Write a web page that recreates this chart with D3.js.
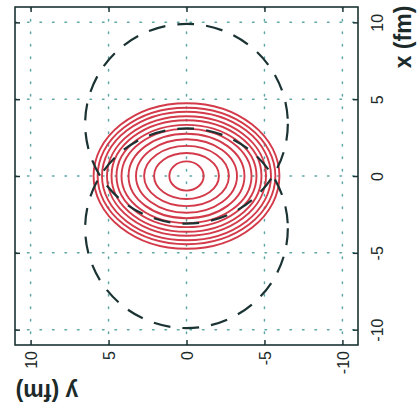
<!DOCTYPE html>
<html>
<head>
<meta charset="utf-8">
<script src="https://cdn.jsdelivr.net/npm/d3@7"></script>
<style>
  body { margin: 0; background: #fff; }
  text { font-family: "Liberation Sans", Arial, sans-serif; fill: #1c2a2a; }
</style>
</head>
<body>
<script>
// tick values (fm), same on both axes
var ticks = [-10, -5, 0, 5, 10];

// two nuclei drawn as dashed circles: centre along x (fm) and radius (fm)
var nucleusX = [3.4, -3.4];
var nucleusR = [6.5, 6.5];

// red contours, semi axes in fm (along y = horizontal, along x = vertical)
var contourSemiY = [5.96, 5.70, 5.42, 5.10, 4.81, 4.49, 4.17, 3.72, 3.24, 2.72, 2.08, 1.10];
var contourSemiX = [4.74, 4.44, 4.18, 3.89, 3.63, 3.33, 3.07, 2.75, 2.39, 1.96, 1.50, 0.95];

var W = 417, H = 414;
var pL = 15, pR = 358, pT = 7, pB = 345;

var svg = d3.select("body").append("svg").attr("width", W).attr("height", H);

// figure is turned on its side: y (fm) runs right to left, x (fm) runs upwards
var sx = d3.scaleLinear().domain([11, -11]).range([pL, pR]);
var sy = d3.scaleLinear().domain([-11, 11]).range([pB, pT]);

svg.append("clipPath").attr("id", "plotclip")
  .append("rect").attr("x", pL).attr("y", pT).attr("width", pR - pL).attr("height", pB - pT);

var plot = svg.append("g").attr("clip-path", "url(#plotclip)");

// dotted grid
var grid = plot.append("g").style("stroke", "#5fa6a6").style("stroke-width", 1.5)
  .style("stroke-dasharray", "1.5,11").style("stroke-linecap", "round");
grid.selectAll("line.v").data(ticks).enter().append("line").attr("class", "v")
  .attr("x1", d => sx(d)).attr("x2", d => sx(d)).attr("y1", pT).attr("y2", pB);
grid.selectAll("line.h").data(ticks).enter().append("line").attr("class", "h")
  .attr("y1", d => sy(d)).attr("y2", d => sy(d)).attr("x1", pL).attr("x2", pR);

// contours
plot.append("g").selectAll("ellipse").data(contourSemiY).enter().append("ellipse")
  .attr("cx", sx(0)).attr("cy", sy(0))
  .attr("rx", d => sx(0) - sx(d))
  .attr("ry", (d, i) => sy(0) - sy(contourSemiX[i]))
  .style("fill", "none").style("stroke", "#d33a4a").style("stroke-width", 1.9);

// nuclei outlines
plot.append("g").selectAll("ellipse").data(nucleusX).enter().append("ellipse")
  .attr("cx", sx(0)).attr("cy", d => sy(d))
  .attr("rx", (d, i) => sx(0) - sx(nucleusR[i]))
  .attr("ry", (d, i) => sy(0) - sy(nucleusR[i]))
  .style("fill", "none").style("stroke", "#1b3333").style("stroke-width", 2.2)
  .style("stroke-dasharray", "17,12");

// axes, ticks pointing inwards
function clean(g) { g.select(".domain").remove(); g.selectAll("line").style("stroke", "#1b3333").style("stroke-width", 1.5); }
var fmt = d => String(d);

var ax = svg.append("g").attr("transform", "translate(" + pR + ",0)")
  .call(d3.axisRight(sy).tickValues(ticks).tickSize(-5).tickFormat(fmt)).call(clean);
ax.selectAll("text").attr("x", 0).attr("dy", "0.35em").attr("text-anchor", "middle")
  .attr("transform", "translate(19,0) rotate(-90)").style("font-size", "16px").style("fill", "#1c2a2a");

var ay = svg.append("g").attr("transform", "translate(0," + pB + ")")
  .call(d3.axisBottom(sx).tickValues(ticks).tickSize(-5).tickFormat(fmt)).call(clean);
ay.selectAll("text").attr("y", 0).attr("dy", "0.35em").attr("text-anchor", "end")
  .attr("transform", "translate(0,6) rotate(-90)").style("font-size", "16px").style("fill", "#1c2a2a");

svg.append("g").attr("transform", "translate(0," + pT + ")")
  .call(d3.axisTop(sx).tickValues(ticks).tickSize(-5).tickFormat("")).call(clean);
svg.append("g").attr("transform", "translate(" + pL + ",0)")
  .call(d3.axisLeft(sy).tickValues(ticks).tickSize(-5).tickFormat("")).call(clean);

// frame
svg.append("rect").attr("x", pL).attr("y", pT).attr("width", pR - pL).attr("height", pB - pT)
  .style("fill", "none").style("stroke", "#1b3333").style("stroke-width", 1.6);

// axis titles
svg.append("text").attr("transform", "translate(403,37) rotate(-90)")
  .attr("text-anchor", "middle").attr("dy", "0.35em")
  .style("font-size", "23px").style("font-weight", "bold").text("x (fm)");
svg.append("text").attr("transform", "translate(47,392) rotate(180)")
  .attr("text-anchor", "middle").attr("dy", "0.35em")
  .style("font-size", "23px").style("font-weight", "bold").text("y (fm)");
</script>
</body>
</html>
